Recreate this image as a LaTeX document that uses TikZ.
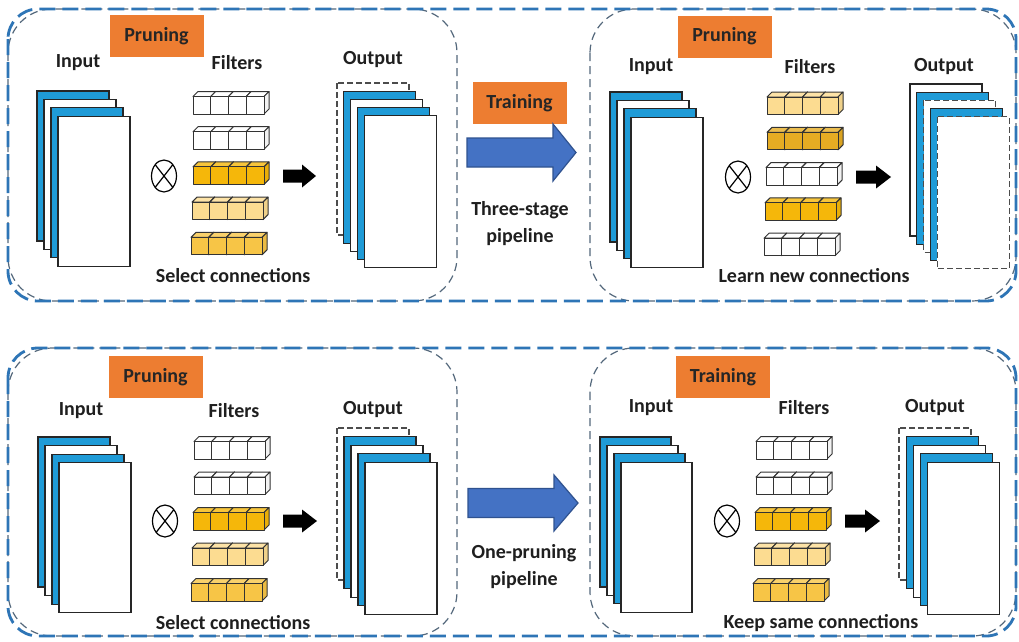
\documentclass[tikz,border=0pt]{standalone}
\usepackage{fontspec}
\setmainfont{Carlito}
\definecolor{frameblue}{RGB}{46,117,182}
\definecolor{innergray}{RGB}{84,104,124}
\definecolor{tagorange}{RGB}{237,125,49}
\definecolor{mapblue}{RGB}{31,155,215}
\definecolor{arrowblue}{RGB}{68,114,196}
\definecolor{arrowedge}{RGB}{47,82,143}
\definecolor{fstrong}{RGB}{245,183,10}
\definecolor{flight}{RGB}{252,220,145}
\definecolor{fgold}{RGB}{247,197,70}
\definecolor{fdark}{RGB}{230,172,35}
\definecolor{fwhite}{RGB}{255,255,255}

% one row of four filter cubes: x of front-left, y of front-bottom, colour
\newcommand\filterrow[3]{%
  \foreach \k in {0,1,2,3}{%
    \pgfmathsetmacro\xa{#1+\k*17.75}%
    \filldraw[cube, fill=#3!80!white] (\xa,#2-17.5) -- ++(5,-5) -- ++(17.75,0) -- ++(-5,5) -- cycle;
    \filldraw[cube, fill=#3!95!black] (\xa+17.75,#2) -- ++(5,-5) -- ++(0,-17.5) -- ++(-5,5) -- cycle;
    \filldraw[cube, fill=#3] (\xa,#2) rectangle ++(17.75,-17.5);
  }}
% block arrow: tail x, tip x, head-start x, centre y, half body, half head, style
\newcommand\blockarrow[7]{%
  \path[#7] (#1,#4-#5) -- (#3,#4-#5) -- (#3,#4-#6) -- (#2,#4) -- (#3,#4+#6) -- (#3,#4+#5) -- (#1,#4+#5) -- cycle;}
% convolution sign
\newcommand\convsign[2]{%
  \draw[line width=1.2pt] (#1,#2) ellipse [x radius=12.5, y radius=16];
  \draw[line width=1.2pt] (#1-8.8,#2-11.3) -- (#1+8.8,#2+11.3);
  \draw[line width=1.2pt] (#1-8.8,#2+11.3) -- (#1+8.8,#2-11.3);}

\tikzset{
  outerframe/.style={draw=frameblue, line width=2.8pt, dash pattern=on 16pt off 7pt, rounded corners=30pt},
  innerframe/.style={draw=innergray, line width=1.2pt, dash pattern=on 8pt off 5pt, rounded corners=44pt},
  tag/.style={fill=tagorange, minimum width=94pt, minimum height=42pt, inner sep=0pt,
    font=\bfseries\fontsize{20}{22}\selectfont, text=black!85},
  lbl/.style={font=\bfseries\fontsize{20}{27}\selectfont, text=black!88, align=center, inner sep=0pt},
  cube/.style={draw=black!80, line width=1pt, line join=round},
  bluesheet/.style={fill=mapblue, draw=black!85, line width=1.1pt},
  whitesheet/.style={fill=white, draw=black!85, line width=1.1pt},
  dashsheet/.style={fill=white, draw=black!70, line width=1.1pt, dash pattern=on 6pt off 3pt},
  bigarrow/.style={fill=arrowblue, draw=arrowedge, line width=1.2pt, line join=miter},
  darrow/.style={fill=black},
}

\begin{document}
\begin{tikzpicture}[x=1pt,y=-1pt]
\useasboundingbox (0,0) rectangle (1019,641);
\fill[white] (0,0) rectangle (1019,641);

% ---------------- frames ----------------
\draw[innerframe] (8,9) rectangle (457,301);
\draw[innerframe] (590,9) rectangle (1016,301);
\draw[outerframe] (8,9) rectangle (1016,301);
\draw[innerframe] (8,348) rectangle (457,636);
\draw[innerframe] (590,348) rectangle (1016,636);
\draw[outerframe] (8,348) rectangle (1016,636);

% ================= top row: three-stage pipeline =================
% left panel
\node[tag] (tlTag) at (156.5,36) {Pruning};
\node[lbl] (tlIn) at (78,63) {Input};
\node[lbl] (tlFi) at (237,63) {Filters};
\node[lbl] (tlOut) at (373,60) {Output};
\foreach \s [count=\i from 0] in {bluesheet,whitesheet,bluesheet,whitesheet}
  \path[\s] (37+\i*7,91+\i*8.4) rectangle ++(72,150);
\convsign{164}{176}
\filterrow{193}{114}{fwhite}
\filterrow{193}{149.2}{fwhite}
\filterrow{193}{184.4}{fstrong}
\filterrow{192}{219.6}{flight}
\filterrow{191}{254.8}{fgold}
\blockarrow{283}{316}{302}{176}{6.5}{11.5}{darrow}
\foreach \s [count=\i from 0] in {dashsheet,bluesheet,whitesheet,bluesheet,whitesheet}
  \path[\s] (337+\i*6.8,83+\i*8.2) rectangle ++(72,152);
\node[lbl] (tlNote) at (233,276) {Select connections};

% middle
\node[tag] (tmTag) at (519.5,103) {Training};
\blockarrow{467}{576}{553}{152.5}{14.5}{28.5}{bigarrow}
\node[lbl] (tmNote) at (520,223.5) {Three-stage\\pipeline};

% right panel
\node[tag] (trTag) at (724.5,36.5) {Pruning};
\node[lbl] (trIn) at (651,67) {Input};
\node[lbl] (trFi) at (810,67) {Filters};
\node[lbl] (trOut) at (944,67) {Output};
\foreach \s [count=\i from 0] in {bluesheet,whitesheet,bluesheet,whitesheet}
  \path[\s] (610+\i*7,92+\i*8.4) rectangle ++(72,150);
\convsign{738}{177}
\filterrow{767}{114.5}{flight}
\filterrow{767}{149.8}{fdark}
\filterrow{766}{185.1}{fwhite}
\filterrow{765}{220.4}{fstrong}
\filterrow{764}{255.7}{fwhite}
\blockarrow{856}{891}{876}{177}{6.5}{11.5}{darrow}
\foreach \s [count=\i from 0] in {whitesheet,bluesheet,dashsheet,bluesheet,dashsheet}
  \path[\s] (910+\i*6.8,84+\i*8.2) rectangle ++(72,152);
\node[lbl] (trNote) at (814,276) {Learn new connections};

% ================= bottom row: one-pruning pipeline =================
% left panel
\node[tag] (blTag) at (155.5,377) {Pruning};
\node[lbl] (blIn) at (81,411) {Input};
\node[lbl] (blFi) at (234,411) {Filters};
\node[lbl] (blOut) at (373,410) {Output};
\foreach \s [count=\i from 0] in {bluesheet,whitesheet,bluesheet,whitesheet}
  \path[\s] (38+\i*7,437+\i*8.6) rectangle ++(72,150);
\convsign{165}{521}
\filterrow{194}{459}{fwhite}
\filterrow{194}{494.5}{fwhite}
\filterrow{193}{530}{fstrong}
\filterrow{192}{565.5}{flight}
\filterrow{191}{601}{fgold}
\blockarrow{283}{317}{302}{521}{6.5}{11.5}{darrow}
\foreach \s [count=\i from 0] in {dashsheet,bluesheet,whitesheet,bluesheet,whitesheet}
  \path[\s] (337+\i*7,428+\i*8.6) rectangle ++(72,152);
\node[lbl] (blNote) at (233,623) {Select connections};

% middle
\blockarrow{468}{578}{554}{503}{14.5}{28}{bigarrow}
\node[lbl] (bmNote) at (524,567) {One-pruning\\pipeline};

% right panel
\node[tag] (brTag) at (723,377) {Training};
\node[lbl] (brIn) at (651,408) {Input};
\node[lbl] (brFi) at (804,408) {Filters};
\node[lbl] (brOut) at (935,408) {Output};
\foreach \s [count=\i from 0] in {bluesheet,whitesheet,bluesheet,whitesheet}
  \path[\s] (600+\i*7,437+\i*8.4) rectangle ++(71,150);
\convsign{727}{521}
\filterrow{756}{459}{fwhite}
\filterrow{756}{494.5}{fwhite}
\filterrow{755}{530}{fstrong}
\filterrow{754}{565.5}{flight}
\filterrow{753}{601}{fgold}
\blockarrow{845}{880}{865}{521}{6.5}{11.5}{darrow}
\foreach \s [count=\i from 0] in {dashsheet,bluesheet,whitesheet,bluesheet,whitesheet}
  \path[\s] (899+\i*7.2,428+\i*8.6) rectangle ++(72,152);
\node[lbl] (brNote) at (821,623) {Keep same connections};
\end{tikzpicture}
\end{document}
